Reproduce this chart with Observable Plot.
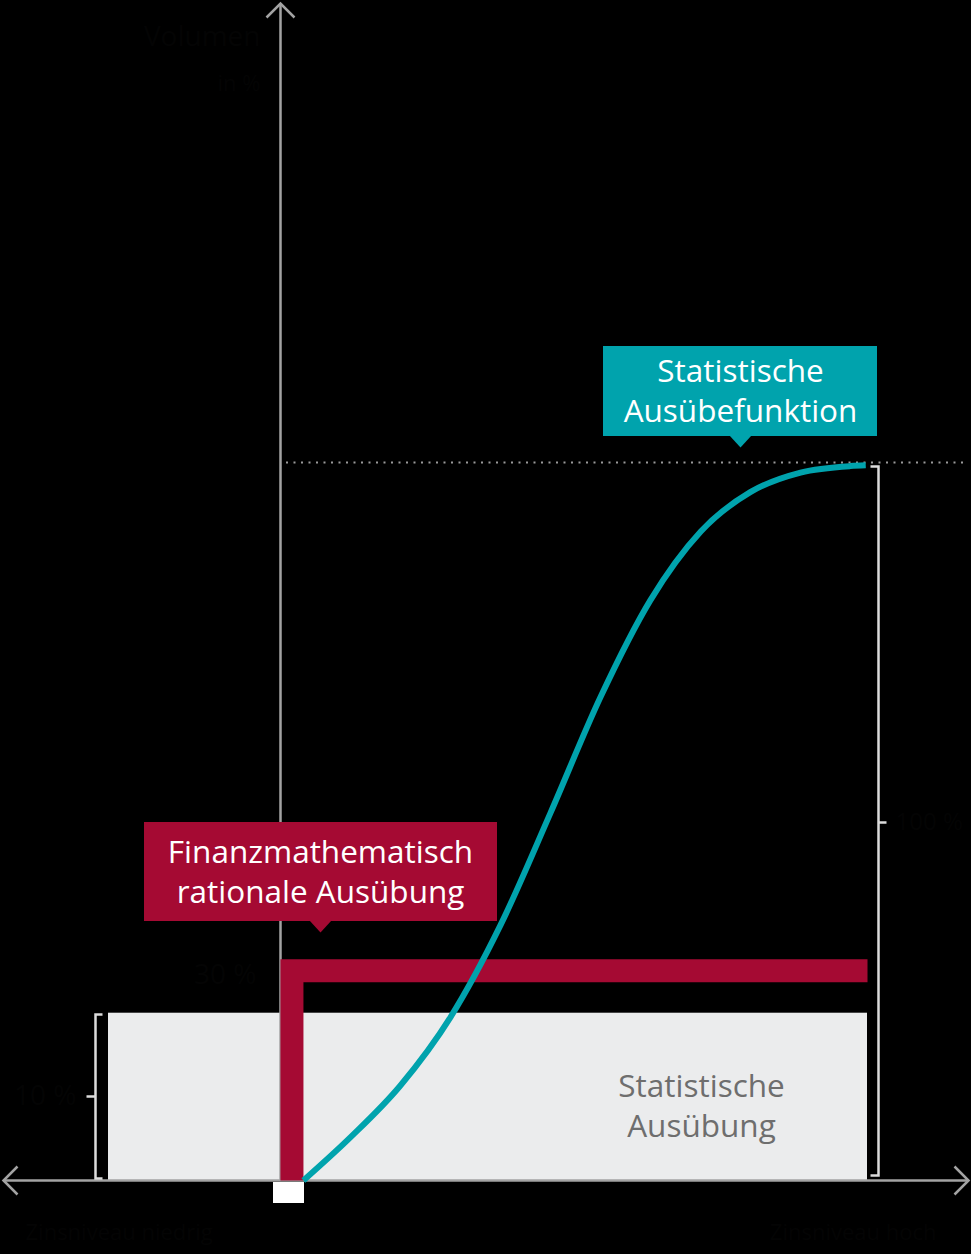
<!DOCTYPE html>
<html>
<head>
<meta charset="utf-8">
<script src="https://cdn.jsdelivr.net/npm/d3@7"></script>
<script src="https://cdn.jsdelivr.net/npm/@observablehq/plot@0.6"></script>
<style>
  html, body { margin: 0; padding: 0; background: #000; }
  #chart svg { display: block; }
</style>
</head>
<body>
<div id="chart"></div>
<script>
// ---- Data (x: Zinsniveau 0..100, y: Volumen in %) ----
const statX = [3.9, 11.9, 20.4, 29.0, 37.5, 46.0, 54.5, 63.0, 71.6, 80.1, 88.6, 97.1, 99.7];
const statY = [0, 6.0, 13.2, 22.8, 35.6, 51.2, 67.3, 80.8, 90.4, 95.9, 98.6, 99.5, 99.6];
const rationalX = [1.95, 1.95, 100];
const rationalY = [0, 29.2, 29.2];
const statBoxX = [-29.3, 100];
const statBoxY = [0, 23.3];
const valueLabels = ["10 %", "30 %", "100 %"];
const axisLabels = ["Volumen", "in %", "Zinsniveau niedrig", "Zinsniveau hoch"];
const redLabel = ["Finanzmathematisch", "rationale Ausübung"];
const tealLabel = ["Statistische", "Ausübefunktion"];
const greyLabel = ["Statistische", "Ausübung"];

const curve = statX.map((x, i) => ({x, y: statY[i]}));
const rational = rationalX.map((x, i) => ({x, y: rationalY[i]}));

// pixel -> data helpers for annotation layout
const X = px => (px - 280) / 5.87;
const Y = py => (1180 - py) / 7.18;

const RED = "#a50a33", TEAL = "#00a3ad", AXIS = "#a3a3a3", BR = "#dcdcdc", DARK = "#040404";
const F = "'Open Sans', Roboto, sans-serif";

const seg = (pts) => pts.map(([a, b]) => ({x: X(a), y: Y(b)}));
const poly = {x: "x", y: "y", strokeLinejoin: "miter", strokeLinecap: "butt", strokeMiterlimit: 10};
const twoLines = (lines, cx, y0, fill) => lines.map((t, i) =>
  Plot.text([t], {x: X(cx), y: Y(y0 + i * 40.5), text: d => d, fill, fontSize: 31.5, textAnchor: "middle", lineAnchor: "middle", fontFamily: F}));

const chart = Plot.plot({
  width: 971,
  height: 1254,
  margin: 0,
  x: {domain: [0, 100], range: [280, 867], axis: null},
  y: {domain: [0, 100], range: [1180, 462], axis: null},
  style: {background: "#000", fontFamily: F},
  marks: [
    // grey statistical exercise box
    Plot.rect([0], {x1: statBoxX[0], x2: statBoxX[1], y1: statBoxY[0], y2: statBoxY[1], fill: "#ebeced"}),
    // dotted 100% line
    Plot.ruleY([100], {x1: X(286), x2: X(966), stroke: "#9a9a9a", strokeWidth: 2, strokeDasharray: "2,5.5"}),
    // axes
    Plot.line(seg([[280, 1180], [280, 3]]), {...poly, stroke: AXIS, strokeWidth: 2.5}),
    Plot.line(seg([[266, 17], [280, 3], [294, 17]]), {...poly, stroke: AXIS, strokeWidth: 2.5}),
    Plot.line(seg([[3, 1180], [968, 1180]]), {...poly, stroke: AXIS, strokeWidth: 2.5}),
    Plot.line(seg([[17, 1166], [3, 1180], [17, 1194]]), {...poly, stroke: AXIS, strokeWidth: 2.5}),
    Plot.line(seg([[954, 1166], [968, 1180], [954, 1194]]), {...poly, stroke: AXIS, strokeWidth: 2.5}),
    // brackets
    Plot.line(seg([[102, 1014], [95, 1014], [95, 1178], [102, 1178]]), {...poly, stroke: BR, strokeWidth: 2.5}),
    Plot.line(seg([[86, 1096], [95, 1096]]), {...poly, stroke: BR, strokeWidth: 2.5}),
    Plot.line(seg([[870, 466], [878, 466], [878, 1175], [870, 1175]]), {...poly, stroke: BR, strokeWidth: 2.5}),
    Plot.line(seg([[878, 822], [886, 822]]), {...poly, stroke: BR, strokeWidth: 2.5}),
    // rational exercise (red L)
    Plot.line(rational, {...poly, stroke: RED, strokeWidth: 23}),
    // statistical exercise function (teal S-curve)
    Plot.line(curve, {x: "x", y: "y", curve: "monotone-x", stroke: TEAL, strokeWidth: 6, strokeLinecap: "butt"}),
    // white origin marker
    Plot.rect([0], {x1: X(273), x2: X(304), y1: Y(1182), y2: Y(1203), fill: "#fff"}),
    // red label box
    Plot.rect([0], {x1: X(144), x2: X(497), y1: Y(921), y2: Y(822), fill: RED}),
    Plot.line(seg([[309, 920], [331, 920], [320, 932], [309, 920]]), {x: "x", y: "y", fill: RED, stroke: "none"}),
    ...twoLines(redLabel, 320, 852, "#fff"),
    // teal label box
    Plot.rect([0], {x1: X(603), x2: X(877), y1: Y(436), y2: Y(346), fill: TEAL}),
    Plot.line(seg([[729, 435], [751, 435], [740, 447], [729, 435]]), {x: "x", y: "y", fill: TEAL, stroke: "none"}),
    ...twoLines(tealLabel, 740, 371, "#fff"),
    // grey box label
    ...twoLines(greyLabel, 701, 1086, "#6e6e6e"),
    // dark (near-invisible) labels
    Plot.text([axisLabels[0]], {x: X(260), y: Y(37), text: d => d, fill: DARK, fontSize: 28, textAnchor: "end", fontFamily: F}),
    Plot.text([axisLabels[1]], {x: X(260), y: Y(83), text: d => d, fill: DARK, fontSize: 22, textAnchor: "end", fontFamily: F}),
    Plot.text([axisLabels[2]], {x: X(25), y: Y(1232), text: d => d, fill: DARK, fontSize: 22, textAnchor: "start", fontFamily: F}),
    Plot.text([axisLabels[3]], {x: X(936), y: Y(1232), text: d => d, fill: DARK, fontSize: 22, textAnchor: "end", fontFamily: F}),
    Plot.text([valueLabels[0]], {x: X(76), y: Y(1096), text: d => d, fill: DARK, fontSize: 28, textAnchor: "end", fontFamily: F}),
    Plot.text([valueLabels[1]], {x: X(256), y: Y(975), text: d => d, fill: DARK, fontSize: 28, textAnchor: "end", fontFamily: F}),
    Plot.text([valueLabels[2]], {x: X(895), y: Y(822), text: d => d, fill: DARK, fontSize: 24, textAnchor: "start", fontFamily: F})
  ]
});
document.getElementById("chart").appendChild(chart);
</script>
</body>
</html>
